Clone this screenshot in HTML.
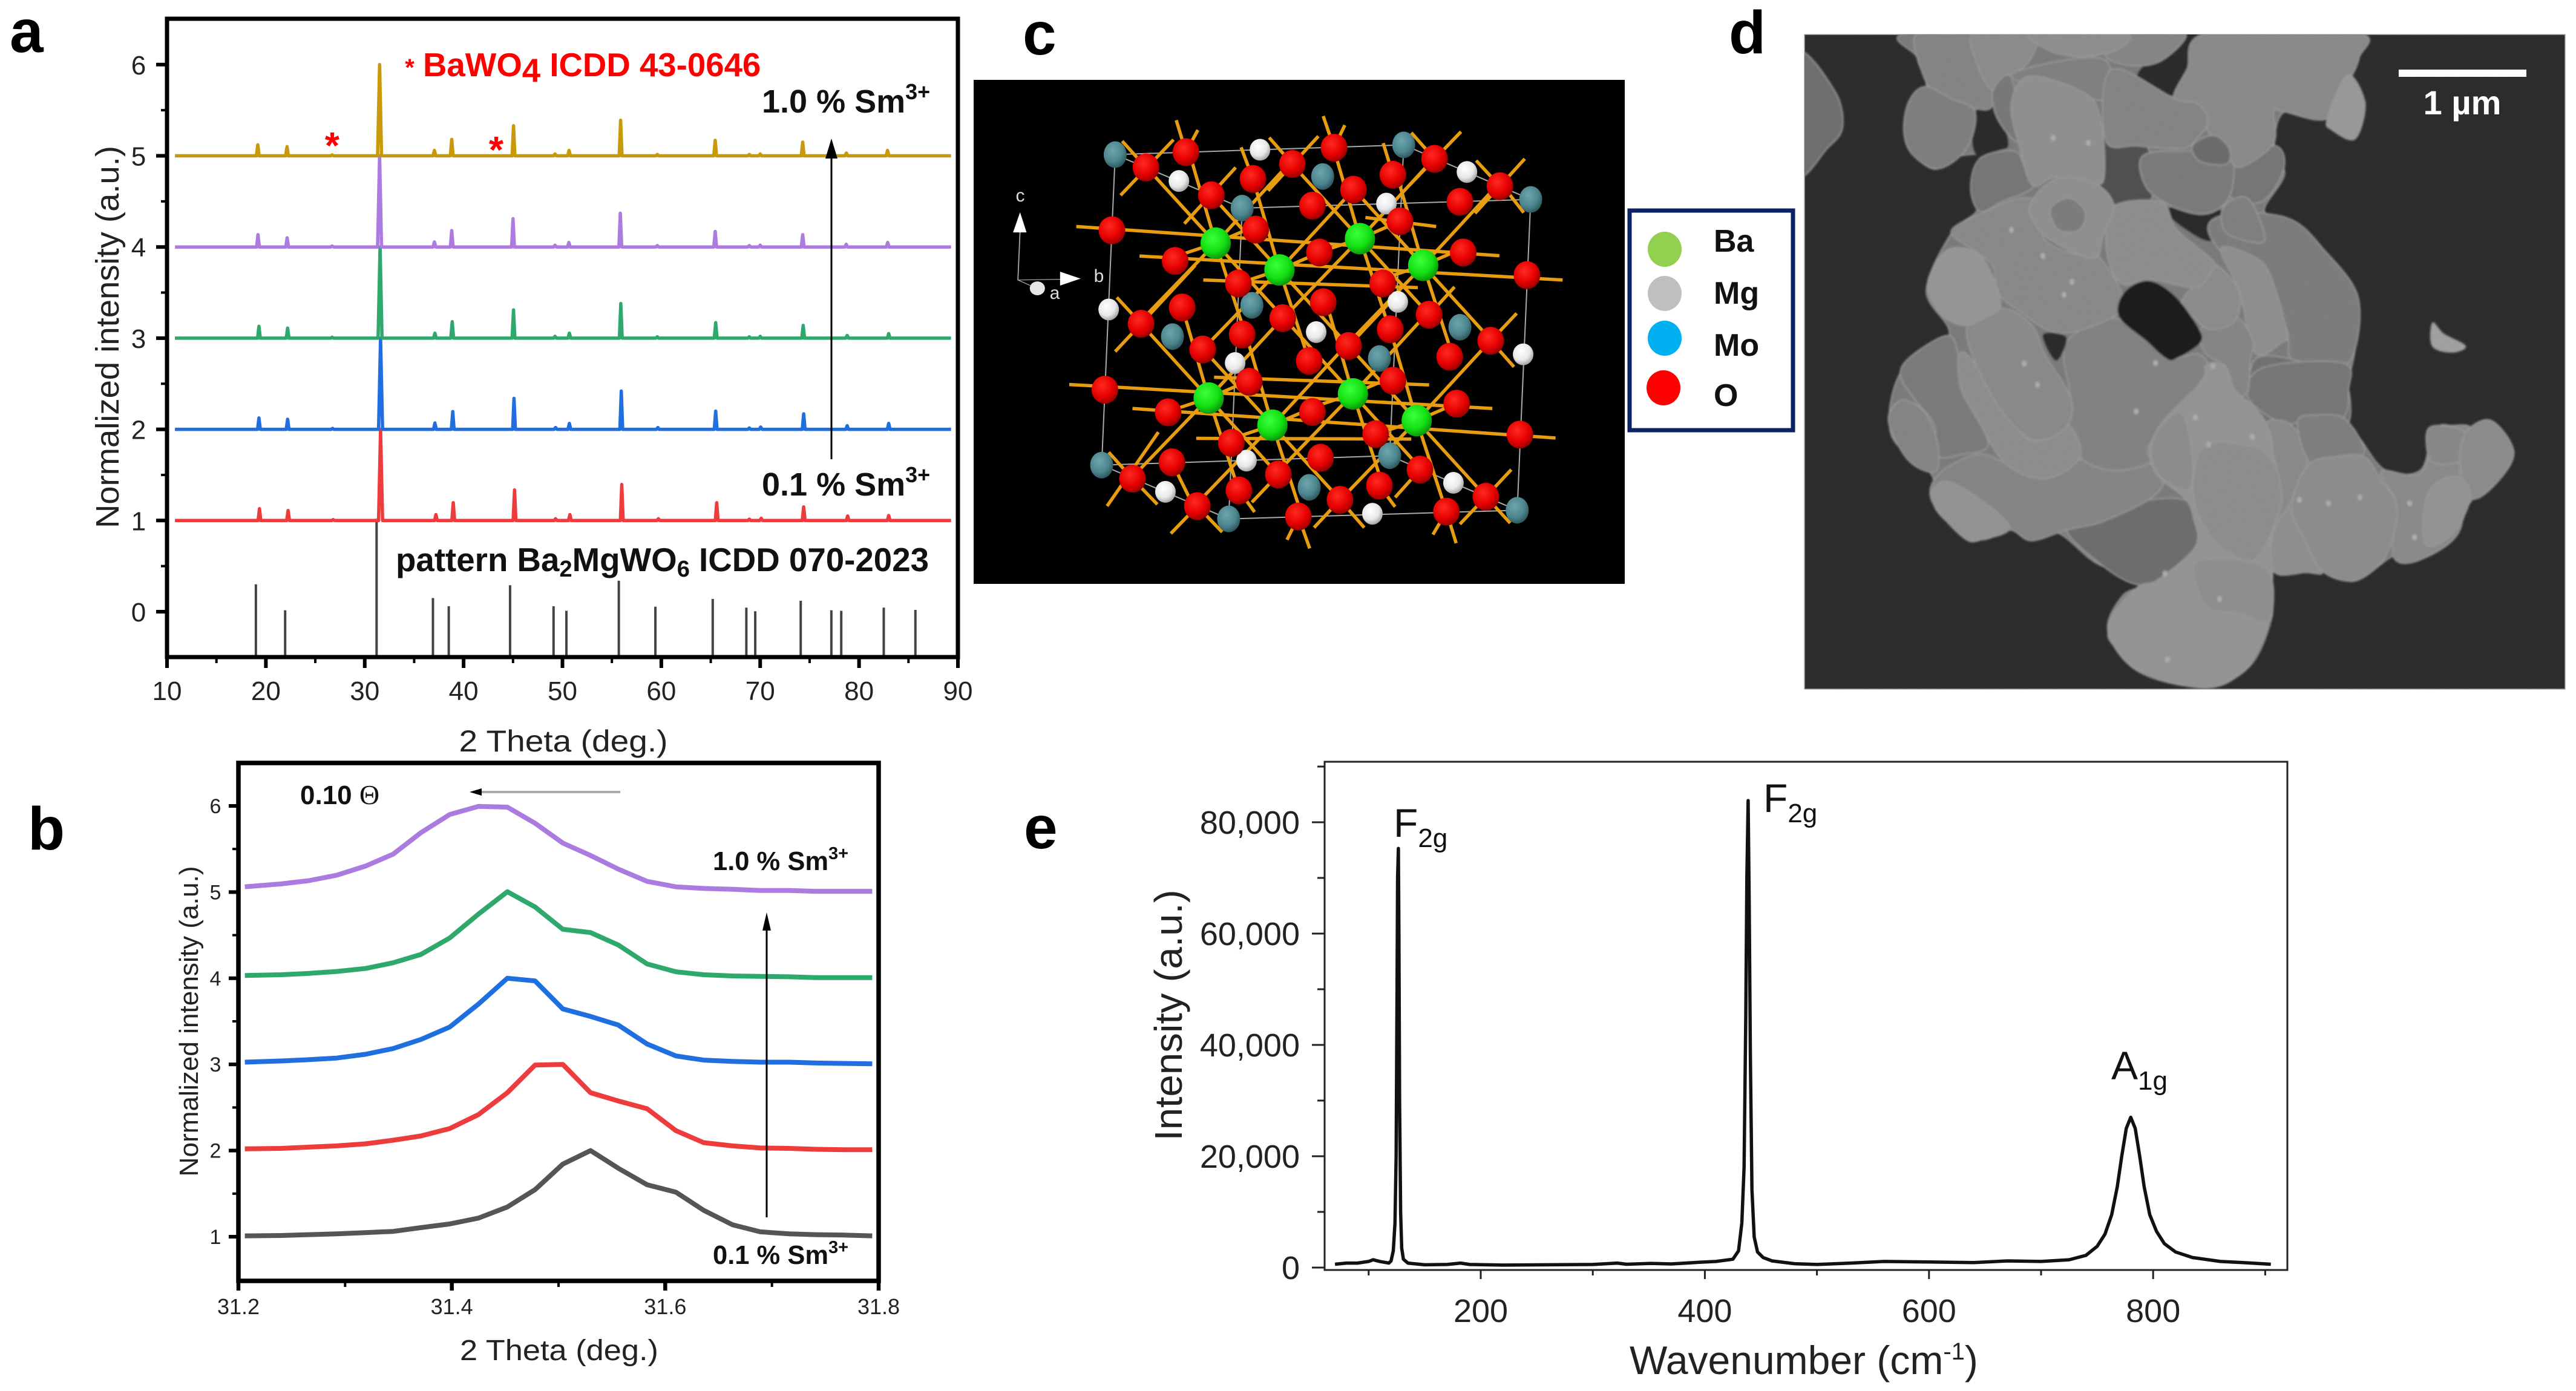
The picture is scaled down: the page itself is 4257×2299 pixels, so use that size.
<!DOCTYPE html>
<html lang="en">
<head>
<meta charset="utf-8">
<title>Ba2MgWO6 Sm3+ characterisation figure</title>
<style>
html,body{margin:0;padding:0;background:#fff;}
svg{display:block;font-family:"Liberation Sans",sans-serif;}
.panel-letter{font-weight:bold;font-size:100px;fill:#000;}
</style>
</head>
<body>
<svg id="figure" xmlns="http://www.w3.org/2000/svg" width="4257" height="2299" viewBox="0 0 4257 2299">
<defs>
<radialGradient id="grad-red" cx="40%" cy="35%" r="70%"><stop offset="0" stop-color="#ff2a20"/><stop offset=".6" stop-color="#e60000"/><stop offset="1" stop-color="#8c0000"/></radialGradient>
<radialGradient id="grad-green" cx="40%" cy="35%" r="70%"><stop offset="0" stop-color="#3dff3d"/><stop offset=".6" stop-color="#12e012"/><stop offset="1" stop-color="#0a8a0a"/></radialGradient>
<radialGradient id="grad-teal" cx="40%" cy="35%" r="70%"><stop offset="0" stop-color="#6fa5ad"/><stop offset=".6" stop-color="#4d868f"/><stop offset="1" stop-color="#2a5057"/></radialGradient>
<radialGradient id="grad-white" cx="40%" cy="35%" r="70%"><stop offset="0" stop-color="#ffffff"/><stop offset=".6" stop-color="#e8e8e8"/><stop offset="1" stop-color="#9a9a9a"/></radialGradient>
<filter id="sem-noise" x="0" y="0" width="100%" height="100%" color-interpolation-filters="sRGB"><feTurbulence type="fractalNoise" baseFrequency="0.7" numOctaves="2" seed="4"/><feColorMatrix values="1 0 0 0 0  1 0 0 0 0  1 0 0 0 0  0 0 0 0 .06"/></filter>
<filter id="sem-soft" x="-2%" y="-2%" width="104%" height="104%"><feGaussianBlur stdDeviation="1.6"/></filter>
<clipPath id="sem-clip"><rect x="2982" y="57" width="1257" height="1082"/></clipPath>
</defs>

<!-- panel letters -->
<text class="panel-letter" x="16" y="86">a</text>
<text class="panel-letter" x="46" y="1404">b</text>
<text class="panel-letter" x="1690" y="90">c</text>
<text class="panel-letter" x="2857" y="88">d</text>
<text class="panel-letter" x="1692" y="1402">e</text>

<!-- panel a -->
<g id="panel-a">
  <g id="a-series"></g>
  <rect x="276" y="31" width="1307" height="1055" fill="none" stroke="#000" stroke-width="7"/>
  <g id="a-axes"></g>
  <text x="931" y="1242" font-size="50" text-anchor="middle" fill="#222" textLength="345" lengthAdjust="spacingAndGlyphs">2 Theta (deg.)</text>
  <text transform="translate(196,557) rotate(-90)" font-size="54" text-anchor="middle" fill="#222" textLength="632" lengthAdjust="spacingAndGlyphs">Normalized intensity (a.u.)</text>
  <text x="677" y="125" font-size="40" font-weight="bold" text-anchor="middle" fill="#f00">*</text>
  <text x="699" y="126" font-size="54.6" font-weight="bold" fill="#f00">BaWO<tspan dy="9">4</tspan><tspan dy="-9"> ICDD 43-0646</tspan></text>
  <text x="549" y="262" font-size="62" font-weight="bold" text-anchor="middle" fill="#f00">*</text>
  <text x="820" y="269" font-size="62" font-weight="bold" text-anchor="middle" fill="#f00">*</text>
  <text x="1259" y="186" font-size="54" font-weight="bold" fill="#111">1.0 % Sm<tspan dy="-22" font-size="36">3+</tspan></text>
  <text x="1259" y="819" font-size="54" font-weight="bold" fill="#111">0.1 % Sm<tspan dy="-22" font-size="36">3+</tspan></text>
  <text x="654" y="944" font-size="54.7" font-weight="bold" fill="#111">pattern Ba<tspan dy="9" font-size="38">2</tspan><tspan dy="-9">MgWO</tspan><tspan dy="9" font-size="38">6</tspan><tspan dy="-9"> ICDD 070-2023</tspan></text>
  <g>
    <line x1="1374" y1="759" x2="1374" y2="255" stroke="#000" stroke-width="3"/>
    <polygon points="1374,229 1364,262 1384,262" fill="#000"/>
  </g>
</g>

<!-- panel b -->
<g id="panel-b">
  <g id="b-series"></g>
  <rect x="394" y="1261" width="1058" height="856" fill="none" stroke="#000" stroke-width="7.5"/>
  <g id="b-axes"></g>
  <text x="924" y="2248" font-size="48" text-anchor="middle" fill="#222" textLength="328" lengthAdjust="spacingAndGlyphs">2 Theta (deg.)</text>
  <text transform="translate(327,1688) rotate(-90)" font-size="44" text-anchor="middle" fill="#222" textLength="513" lengthAdjust="spacingAndGlyphs">Normalized intensity (a.u.)</text>
  <text x="496" y="1329" font-size="44" font-weight="bold" fill="#111">0.10 <tspan font-family="Liberation Serif" font-weight="normal" font-size="46">Θ</tspan></text>
  <g>
    <line x1="1025" y1="1309" x2="790" y2="1309" stroke="#aaa" stroke-width="4"/>
    <polygon points="776,1309 796,1303 796,1315" fill="#000"/>
  </g>
  <text x="1178" y="1438" font-size="43.5" font-weight="bold" fill="#111">1.0 % Sm<tspan dy="-18" font-size="29">3+</tspan></text>
  <text x="1178" y="2089" font-size="43.5" font-weight="bold" fill="#111">0.1 % Sm<tspan dy="-18" font-size="29">3+</tspan></text>
  <g>
    <line x1="1267" y1="2012" x2="1267" y2="1530" stroke="#000" stroke-width="3"/>
    <polygon points="1267,1508 1260,1538 1274,1538" fill="#000"/>
  </g>
</g>

<!-- panel c -->
<g id="panel-c">
  <rect x="1609" y="132" width="1076" height="833" fill="#000"/>
  <g id="c-cell"></g>
  <g id="c-bonds"></g>
  <g id="c-atoms"></g>
  <g transform="translate(1600,100) scale(.893,.574)">
    <polyline points="96,490 92,632 170,630" fill="none" stroke="#aaa" stroke-width="2"/>
    <line x1="92" y1="632" x2="115" y2="648" stroke="#aaa" stroke-width="2"/>
    <polygon points="96,437 83,495 108,495" fill="#fff"/>
    <polygon points="208,628 170,608 170,648" fill="#fff"/>
    <ellipse cx="128" cy="656" rx="14" ry="20" fill="#e6e6e6"/>
  </g>
  <text x="1686" y="333" font-size="30" text-anchor="middle" fill="#ddd">c</text>
  <text x="1816" y="466" font-size="30" text-anchor="middle" fill="#ddd">b</text>
  <text x="1743" y="494" font-size="30" text-anchor="middle" fill="#ddd">a</text>
  <g>
    <rect x="2693" y="348" width="270" height="363" fill="#fff" stroke="#0b2265" stroke-width="7"/>
    <ellipse cx="2751" cy="412" rx="28" ry="29" fill="#92d050"/>
    <ellipse cx="2751" cy="485" rx="28" ry="29" fill="#bfbfbf"/>
    <ellipse cx="2751" cy="559" rx="28" ry="29" fill="#00b0f0"/>
    <ellipse cx="2749" cy="641" rx="28" ry="29" fill="#ff0000"/>
    <text x="2832" y="416" font-size="52" font-weight="bold" fill="#111">Ba</text>
    <text x="2832" y="502" font-size="52" font-weight="bold" fill="#111">Mg</text>
    <text x="2832" y="588" font-size="52" font-weight="bold" fill="#111">Mo</text>
    <text x="2832" y="671" font-size="52" font-weight="bold" fill="#111">O</text>
  </g>
</g>

<!-- panel d -->
<g id="panel-d">
  <rect x="2982" y="57" width="1257" height="1082" fill="#272727" stroke="#aaa" stroke-width="1.5"/>
  <g clip-path="url(#sem-clip)">
    <g id="sem-particles" filter="url(#sem-soft)"></g>
  </g>
  <rect x="2982" y="57" width="1257" height="1082" filter="url(#sem-noise)"/>
  <rect x="3964" y="115" width="211" height="12" fill="#fff"/>
  <text x="4069" y="189" font-size="56" font-weight="bold" text-anchor="middle" fill="#fff">1 µm</text>
</g>

<!-- panel e -->
<g id="panel-e">
  <g id="e-series"></g>
  <rect x="2189" y="1259" width="1591" height="840" fill="none" stroke="#222" stroke-width="3"/>
  <g id="e-axes"></g>
  <text x="2693" y="2271" font-size="66" fill="#222">Wavenumber (cm<tspan dy="-24" font-size="40">-1</tspan><tspan dy="24">)</tspan></text>
  <text transform="translate(1953,1678) rotate(-90)" font-size="64" text-anchor="middle" fill="#222" textLength="415" lengthAdjust="spacingAndGlyphs">Intensity (a.u.)</text>
  <text x="2303" y="1383" font-size="66" fill="#111">F<tspan dy="17" font-size="44">2g</tspan></text>
  <text x="2914" y="1342" font-size="66" fill="#111">F<tspan dy="17" font-size="44">2g</tspan></text>
  <text x="3489" y="1784" font-size="66" fill="#111">A<tspan dy="17" font-size="44">1g</tspan></text>
</g>

<script>
/* ---------- panel a data ---------- */
const xrdXTicks = [10, 20, 30, 40, 50, 60, 70, 80, 90];
const xrdXMinorTicks = [15, 25, 35, 45, 55, 65, 75, 85];
const xrdYTicks = [0, 1, 2, 3, 4, 5, 6];
const xrdYMinorTicks = [0.5, 1.5, 2.5, 3.5, 4.5, 5.5];
const xrdRange = [10.8, 89.3];
const redTheta = [19.35, 22.25, 26.8, 31.6, 37.2, 38.95, 45.15, 49.3, 50.75, 56.0, 59.7, 65.6, 68.9, 70.1, 74.4, 78.85, 83.0];
const redHeight = [0.13, 0.11, 0.01, 1.0, 0.065, 0.195, 0.335, 0.02, 0.065, 0.395, 0.02, 0.195, 0.015, 0.025, 0.15, 0.05, 0.055];
const blueTheta = [19.3, 22.2, 26.75, 31.6, 37.1, 38.9, 45.1, 49.3, 50.7, 55.95, 59.65, 65.5, 68.9, 70.05, 74.4, 78.8, 83.0];
const blueHeight = [0.125, 0.11, 0.01, 1.0, 0.07, 0.195, 0.34, 0.02, 0.065, 0.42, 0.02, 0.2, 0.015, 0.025, 0.17, 0.04, 0.065];
const greenTheta = [19.3, 22.2, 26.7, 31.55, 37.1, 38.85, 45.05, 49.25, 50.7, 55.9, 59.6, 65.5, 68.9, 70.0, 74.35, 78.8, 83.0];
const greenHeight = [0.13, 0.11, 0.01, 1.0, 0.055, 0.18, 0.31, 0.02, 0.055, 0.38, 0.015, 0.17, 0.015, 0.02, 0.14, 0.03, 0.05];
const purpleTheta = [19.2, 22.15, 26.7, 31.5, 37.05, 38.8, 45.0, 49.25, 50.65, 55.85, 59.6, 65.45, 68.9, 70.0, 74.3, 78.7, 82.9];
const purpleHeight = [0.135, 0.1, 0.01, 1.0, 0.055, 0.18, 0.31, 0.02, 0.05, 0.37, 0.015, 0.17, 0.015, 0.02, 0.135, 0.03, 0.05];
const goldTheta = [19.18, 22.14, 26.7, 31.5, 37.05, 38.8, 45.05, 49.25, 50.67, 55.88, 59.6, 65.45, 68.9, 70.0, 74.3, 78.72, 82.88];
const goldHeight = [0.12, 0.1, 0.01, 1.0, 0.06, 0.18, 0.33, 0.02, 0.06, 0.39, 0.015, 0.17, 0.015, 0.02, 0.15, 0.03, 0.06];
const xrdBaselines = [1, 2, 3, 4, 5];
const patternTheta = [18.99, 21.95, 31.2, 36.9, 38.5, 44.7, 49.1, 50.4, 55.7, 59.4, 65.2, 68.6, 69.5, 74.1, 77.2, 78.2, 82.5, 85.7];
const patternHeight = [0.30, 0.016, 1.02, 0.15, 0.06, 0.29, 0.06, 0.01, 0.34, 0.055, 0.14, 0.045, 0.005, 0.12, 0.016, 0.01, 0.045, 0.02];

/* ---------- panel b data ---------- */
const zoomXTicks = [31.2, 31.4, 31.6, 31.8];
const zoomXMinorTicks = [31.3, 31.5, 31.7];
const zoomYTicks = [1, 2, 3, 4, 5, 6];
const zoomYMinorTicks = [1.5, 2.5, 3.5, 4.5, 5.5];
const zoomTheta = [31.206, 31.240, 31.266, 31.292, 31.319, 31.345, 31.371, 31.398, 31.425, 31.452, 31.478, 31.504, 31.530, 31.556, 31.583, 31.610, 31.636, 31.663, 31.689, 31.716, 31.741, 31.768, 31.794];
const zoomGray = [1.01, 1.014, 1.024, 1.034, 1.048, 1.062, 1.105, 1.148, 1.216, 1.345, 1.546, 1.843, 2.0, 1.795, 1.603, 1.517, 1.307, 1.139, 1.057, 1.034, 1.024, 1.019, 1.01];
const zoomRed = [2.02, 2.025, 2.04, 2.054, 2.078, 2.12, 2.169, 2.255, 2.418, 2.671, 2.992, 3.0, 2.671, 2.576, 2.485, 2.231, 2.092, 2.054, 2.03, 2.025, 2.015, 2.01, 2.01];
const zoomBlue = [3.026, 3.04, 3.055, 3.074, 3.117, 3.184, 3.289, 3.433, 3.701, 4.0, 3.969, 3.644, 3.557, 3.457, 3.237, 3.098, 3.05, 3.035, 3.026, 3.026, 3.016, 3.011, 3.007];
const zoomGreen = [4.032, 4.041, 4.056, 4.079, 4.113, 4.18, 4.276, 4.467, 4.745, 5.004, 4.827, 4.568, 4.53, 4.386, 4.166, 4.075, 4.041, 4.027, 4.022, 4.017, 4.008, 4.008, 4.008];
const zoomPurple = [5.061, 5.095, 5.133, 5.195, 5.301, 5.44, 5.689, 5.9, 5.995, 5.986, 5.799, 5.569, 5.425, 5.267, 5.124, 5.061, 5.042, 5.033, 5.018, 5.018, 5.009, 5.009, 5.009];

/* ---------- panel e data ---------- */
const ramanXTicks = [200, 400, 600, 800];
const ramanXMinorTicks = [100, 300, 500, 700, 900];
const ramanYTicks = [0, 20000, 40000, 60000, 80000];
const ramanYTickLabels = ["0", "20,000", "40,000", "60,000", "80,000"];
const ramanYMinorTicks = [10000, 30000, 50000, 70000, 90000];
const ramanWave = [70, 80, 90, 100, 104, 110, 118, 120, 122, 123.5, 124.5, 125.3, 125.8, 126.5, 127, 127.6, 128.5, 129.5, 131, 135, 150, 170, 182, 190, 220, 260, 300, 322, 330, 352, 370, 395, 410, 425, 430, 433, 435, 436.5, 437.5, 438.6, 439.6, 440.6, 442, 444, 447, 452, 460, 480, 500, 530, 560, 600, 640, 670, 700, 725, 740, 750, 757, 763, 768, 772, 776, 780, 784, 788, 792, 797, 803, 810, 820, 835, 860, 880, 905];
const ramanIntensity = [600, 800, 800, 1100, 1400, 1100, 800, 1200, 3000, 8000, 20000, 50000, 70000, 75300, 60000, 30000, 10000, 3500, 1500, 800, 500, 550, 800, 550, 450, 500, 550, 800, 600, 750, 650, 950, 1100, 1500, 3000, 8000, 18000, 45000, 70000, 83900, 65000, 38000, 14000, 5500, 2800, 1800, 1200, 700, 550, 800, 1100, 1000, 900, 1200, 1100, 1400, 2200, 3800, 6000, 9500, 14500, 20000, 25000, 27000, 25000, 20000, 14500, 9500, 6500, 4300, 2800, 1800, 1100, 900, 600];

/* ---------- panel c structure ---------- */
const oxygenSites = [[266,489],[403,264],[329,308],[450,388],[527,341],[600,298],[677,251],[637,418],[713,372],[786,329],[863,283],[799,463],[910,407],[984,362],[532,487],[383,577],[650,553],[916,553],[1034,618],[500,642],[767,642],[396,711],[320,758],[582,742],[657,696],[853,732],[507,789],[781,774],[434,832],[631,865],[704,822],[891,853],[967,807],[253,948],[520,925],[786,922],[370,1013],[637,1012],[904,988],[1021,1077],[487,1101],[754,1076],[377,1157],[304,1204],[652,1144],[574,1192],[836,1178],[501,1238],[424,1283],[761,1224],[688,1265],[611,1313],[885,1299],[958,1256]];
const bariumSites = [[458,526],[725,513],[576,603],[842,590],[445,972],[712,960],[563,1050],[830,1037]];
const molybdenumSites = [[272,271],[656,334],[806,243],[507,425],[1041,400],[525,705],[378,795],[910,768],[761,858],[247,1165],[780,1138],[631,1229],[482,1320],[1016,1295]];
const magnesiumSites = [[390,347],[540,257],[923,321],[774,412],[260,717],[795,695],[644,782],[494,871],[1027,846],[365,1242],[515,1152],[898,1216],[748,1305]];
const bariumBondOffsets = [[-49,-262],[-126,-215],[137,-231],[74,-50],[-76,39],[-142,229],[55,262],[128,219]];
const extraBonds = [[200,478,983,562],[317,563,1100,632],[435,632,832,654],[735,452,866,478],[187,933,970,1002],[304,1002,1087,1087],[422,1088,820,1090],[455,912,853,934],[385,172,403,264],[425,200,403,264],[285,232,329,308],[380,228,282,388],[505,250,527,341],[557,222,600,298],[648,218,555,375],[657,160,677,251],[697,186,677,251],[768,238,786,329],[820,208,863,283],[912,205,816,360],[940,288,984,362],[1030,283,938,440],[985,352,1028,438],[400,470,495,308],[260,1128,304,1204],[352,1070,257,1283],[304,1204,350,1278],[377,1157,408,1255],[424,1283,470,1358],[424,1283,375,1362],[501,1238,530,1300],[574,1192,525,1272],[611,1313,632,1405],[611,1313,590,1380],[688,1265,640,1345],[688,1265,733,1345],[761,1224,790,1285],[836,1178,790,1258],[885,1299,903,1390],[885,1299,860,1365],[958,1256,1005,1178],[958,1256,1003,1332],[958,1256,910,1335],[275,682,320,758],[320,758,272,838],[967,807,1015,728],[967,807,1010,882],[320,758,420,590],[853,732,900,652],[704,822,790,680]];
const cellEdges = [[272,271,806,243],[272,271,507,425],[507,425,1041,400],[806,243,1041,400],[247,1165,780,1138],[247,1165,482,1320],[482,1320,1016,1295],[780,1138,1016,1295],[272,271,247,1165],[1041,400,1016,1295],[507,425,482,1320],[806,243,780,1138]];

/* ---------- panel d micrograph outlines: frame, fill, outline points ---------- */
const semFrames = {T: [3120, 50, 0.4337, 0.4337], M: [3000, 300, 0.4464, 0.4464], B: [3480, 600, 0.3444, 0.3444], R: [0, 0, 1, 1], Z: [2950, 0, 0.8335, 0.7398]};
const semGrains = [
  ["R", "#6e6e6e", [[2970,90],[3032,150],[3045,210],[3020,245],[2970,285]]],
  ["R", "#a2a2a2", [[4020,534],[4038,552],[4074,572],[4052,582],[4020,572]]],
  ["Z", "#7a7a7a", [[262,70],[790,70],[770,150],[835,70],[1130,70],[1138,130],[1120,180],[1150,230],[1130,310],[1085,290],[1075,265],[990,250],[970,330],[990,390],[950,470],[1000,490],[1070,560],[1135,660],[1130,780],[1115,860],[1110,935],[1140,980],[1190,1050],[1260,1050],[1290,960],[1360,960],[1400,940],[1445,1010],[1410,1080],[1360,1120],[1330,1190],[1260,1250],[1210,1240],[1130,1298],[1060,1275],[970,1275],[965,1380],[920,1490],[830,1535],[700,1500],[640,1410],[670,1330],[720,1300],[620,1260],[540,1190],[460,1180],[380,1205],[300,1140],[290,1060],[210,970],[230,830],[325,750],[280,650],[330,520],[380,470],[370,410],[400,350],[340,350],[295,378],[245,330],[240,260],[280,200],[262,130]]],
  ["T", "#262626", [[340,300],[410,290],[460,430],[420,460],[350,490],[320,420]]],
  ["T", "#262626", [[1060,680],[1280,690],[1240,800],[1150,770]]],
  ["T", "#262626", [[1130,15],[1210,15],[1140,150],[1090,250],[950,170]]],
  ["T", "#4e4e4e", [[800,410],[980,430],[1000,650],[820,640]]],
  ["T", "#7b7b7b", [[1230,790],[1300,700],[1529,718],[1665,840],[1789,1010],[1780,1215],[1702,1300],[1540,1260],[1500,1100]]],
  ["T", "#6f6f6f", [[1380,1300],[1450,1240],[1702,1300],[1750,1351],[1760,1480],[1700,1560],[1500,1560],[1400,1480]]],
  ["B", "#767676", [[680,160],[760,20],[1140,0],[1165,130],[1140,260],[1000,260],[850,290]]],
  ["T", "#747474", [[1310,520],[1470,440],[1510,520],[1430,650],[1310,640]]],
  ["T", "#7f7f7f", [[1290,660],[1370,640],[1430,760],[1420,810],[1300,780],[1270,720]]],
  ["T", "#7a7a7a", [[970,480],[1120,460],[1300,480],[1310,610],[1260,680],[1180,700],[1060,660],[980,590]]],
  ["T", "#848484", [[115,10],[330,10],[400,270],[320,295],[180,240],[120,130]]],
  ["T", "#7e7e7e", [[140,215],[240,260],[330,310],[300,450],[190,528],[90,470],[60,380],[80,270]]],
  ["T", "#8c8c8c", [[330,10],[550,10],[550,100],[470,180],[400,230],[340,130]]],
  ["T", "#858585", [[900,10],[1130,10],[1050,110],[940,135],[830,100]]],
  ["T", "#8f8f8f", [[550,10],[900,10],[880,70],[750,100],[620,80]]],
  ["T", "#8a8a8a", [[1140,150],[1220,10],[1790,10],[1794,106],[1759,191],[1674,337],[1510,311],[1470,310],[1470,430],[1350,520],[1300,490],[1210,370],[1180,280],[1090,260]]],
  ["T", "#9a9a9a", [[1750,170],[1817,277],[1780,413],[1692,380],[1674,337]]],
  ["T", "#808080", [[470,180],[640,120],[820,110],[860,210],[860,270],[770,260]]],
  ["T", "#848484", [[850,150],[1090,260],[1180,280],[1220,350],[1170,420],[1120,450],[950,440],[830,420]]],
  ["T", "#777777", [[400,230],[470,180],[500,420],[420,340]]],
  ["T", "#747474", [[350,490],[480,460],[520,520],[550,600],[440,650],[350,690],[315,600]]],
  ["T", "#909090", [[540,175],[750,240],[810,340],[825,540],[790,590],[640,560],[550,590],[500,440],[470,280]]],
  ["T", "#6a6a6a", [[1160,440],[1240,400],[1300,450],[1290,510],[1190,500]]],
  ["B", "#8a8a8a", [[770,285],[880,290],[960,400],[960,500],[880,680],[800,810],[800,850],[800,400]]],
  ["B", "#7e7e7e", [[920,280],[1020,250],[1150,270],[1240,430],[1100,460],[980,480]]],
  ["B", "#8a8a8a", [[1320,520],[1510,530],[1582,319],[1660,300],[1754,319],[1700,500],[1700,800],[1510,944],[1380,930],[1395,680]]],
  ["B", "#888888", [[1540,330],[1600,300],[1720,330],[1750,440],[1680,480],[1560,470]]],
  ["B", "#8c8c8c", [[1730,330],[1850,276],[1957,427],[1873,578],[1754,650],[1700,480]]],
  ["B", "#949494", [[1540,640],[1610,560],[1700,550],[1750,640],[1680,800],[1560,880],[1520,820]]],
  ["B", "#8f8f8f", [[800,830],[890,690],[950,840],[1040,1000],[960,1005],[810,1005]]],
  ["B", "#8d8d8d", [[890,690],[970,490],[1100,450],[1240,450],[1320,560],[1395,680],[1380,830],[1320,960],[1190,1045],[1040,1000],[950,840]]],
  ["M", "#7a7a7a", [[315,720],[350,650],[490,570],[530,650],[540,770],[640,970],[540,1010],[450,1015],[440,900],[370,810]]],
  ["M", "#848484", [[270,880],[320,810],[400,850],[450,960],[450,1070],[380,1060],[320,1000]]],
  ["M", "#6c6c6c", [[930,1290],[1060,1260],[1230,1180],[1400,1200],[1400,1400],[1270,1480],[1180,1490],[1060,1420]]],
  ["M", "#858585", [[430,1180],[460,1080],[600,1010],[700,1040],[850,1100],[980,1030],[1240,1045],[1290,1110],[1230,1180],[1060,1260],[930,1290],[800,1330],[720,1290],[620,1325],[550,1320]]],
  ["M", "#949494", [[430,1180],[480,1110],[600,1170],[720,1280],[620,1325],[550,1320]]],
  ["M", "#828282", [[920,620],[1000,540],[1125,510],[1260,620],[1320,655],[1420,640],[1440,720],[1240,970],[1240,1040],[1100,1070],[980,1020],[935,900],[945,800]]],
  ["M", "#8e8e8e", [[530,650],[580,660],[760,930],[850,955],[935,900],[980,1020],[850,1100],[700,1040],[590,860],[540,770]]],
  ["M", "#8a8a8a", [[560,545],[690,470],[800,530],[850,640],[945,800],[935,900],[850,955],[760,930],[640,770]]],
  ["T", "#8f8f8f", [[1270,830],[1420,880],[1480,1000],[1520,1160],[1500,1190],[1400,1230],[1340,1000]]],
  ["T", "#858585", [[1190,1140],[1320,1090],[1390,1180],[1380,1260],[1370,1380],[1320,1380],[1280,1280],[1210,1230]]],
  ["T", "#8c8c8c", [[1120,1030],[1230,920],[1260,900],[1340,1000],[1320,1110],[1230,1140],[1170,1100]]],
  ["T", "#8e8e8e", [[830,790],[860,670],[1040,655],[1100,760],[1240,880],[1230,920],[1170,980],[1000,950],[900,970],[850,910]]],
  ["T", "#898989", [[240,770],[330,710],[540,640],[600,800],[740,860],[800,860],[890,1000],[880,1080],[660,1155],[500,1070],[420,1000],[400,900],[330,840]]],
  ["T", "#909090", [[540,670],[600,590],[680,560],[800,590],[860,670],[820,780],[800,860],[740,860],[620,800],[560,740]]],
  ["T", "#7c7c7c", [[620,680],[690,640],[750,690],[730,760],[650,760]]],
  ["T", "#979797", [[150,970],[210,850],[290,830],[370,880],[430,1040],[380,1090],[290,1125],[200,1080]]],
  ["B", "#959595", [[360,190],[470,80],[480,10],[570,10],[620,130],[700,200],[770,290],[800,420],[840,600],[830,720],[790,850],[800,1040],[770,1280],[660,1480],[470,1560],[170,1480],[40,1360],[10,1290],[50,1180],[160,1070],[250,1040],[430,880],[420,740],[380,650],[250,540],[210,420],[260,300]]],
  ["B", "#8e8e8e", [[470,400],[700,400],[800,470],[840,600],[830,720],[720,940],[590,910],[500,830],[420,640]]],
  ["B", "#8d8d8d", [[215,420],[260,310],[360,240],[410,400],[410,590],[340,600],[250,530]]],
  ["B", "#8f8f8f", [[440,950],[720,960],[800,1050],[780,1240],[640,1200],[500,1180],[440,1080]]],
  ["T", "#141414", [[880,1090],[900,1000],[990,955],[1090,1010],[1180,1130],[1190,1190],[1100,1250],[1060,1250],[980,1180]]],
  ["T", "#262626", [[590,1160],[680,1170],[640,1260]]]
];
const semSpecks = [[3324,380],[3376,423],[3424,466],[3411,487],[3393,228],[3451,236],[3345,601],[3367,636],[3562,600],[3657,605],[3530,680],[3628,690],[3650,735],[3722,722],[3800,826],[3848,832],[3900,822],[3982,832],[3990,888],[3578,948],[3668,990],[3582,1090]];

/* ---------- helpers ---------- */
const svgNS = "http://www.w3.org/2000/svg";
function add(tag, attrs, parent) {
  const node = document.createElementNS(svgNS, tag);
  for (const key in attrs) node.setAttribute(key, attrs[key]);
  parent.appendChild(node);
  return node;
}
function byId(id) { return document.getElementById(id); }

function drawTick(parent, x1, y1, x2, y2, width, color, name) {
  const tick = add("line", {x1: x1, y1: y1, x2: x2, y2: y2, stroke: color, "stroke-width": width}, parent);
  
  
}
function drawLabel(parent, x, y, text, size, anchor, name) {
  const label = add("text", {x: x, y: y, "font-size": size, "text-anchor": anchor, fill: "#222"}, parent);
  label.textContent = text;
  
  
}
function linePath(xs, ys, xScale, yScale) {
  return xs.map(function (x, i) { return (i ? "L" : "M") + xScale(x).toFixed(1) + " " + yScale(ys[i]).toFixed(1); }).join("");
}

/* ---------- panel a ---------- */
const xA = function (v) { return 276 + (v - 10) * 1307 / 80; };
const yA = function (v) { return 1011 - v * 150.7; };
const aAxes = byId("a-axes");
const aSeries = byId("a-series");
xrdXTicks.forEach(function (v) {
  drawTick(aAxes, xA(v), 1086, xA(v), 1104, 6, "#000", "xrd-x-tick");
  drawLabel(aAxes, xA(v), 1157, String(v), 44, "middle", "xrd-x-tick-label");
});
xrdXMinorTicks.forEach(function (v) { drawTick(aAxes, xA(v), 1086, xA(v), 1096, 4, "#000", "xrd-x-minor-tick"); });
xrdYTicks.forEach(function (v) {
  drawTick(aAxes, 276, yA(v), 258, yA(v), 6, "#000", "xrd-y-tick");
  drawLabel(aAxes, 229, yA(v) + 16, String(v), 44, "middle", "xrd-y-tick-label");
});
xrdYMinorTicks.forEach(function (v) { drawTick(aAxes, 276, yA(v), 266, yA(v), 4, "#000", "xrd-y-minor-tick"); });

patternTheta.forEach(function (t, i) {
  drawTick(aSeries, xA(t), yA(-0.5), xA(t), yA(patternHeight[i]), 4, "#444", "reference-pattern-stick");
});

function xrdPath(thetas, heights, base) {
  let d = "M" + xA(xrdRange[0]).toFixed(1) + " " + yA(base).toFixed(1);
  thetas.forEach(function (t, i) {
    const half = heights[i] >= 0.9 ? 0.2 : 0.14;
    d += "L" + xA(t - half).toFixed(1) + " " + yA(base).toFixed(1);
    d += "L" + xA(t).toFixed(1) + " " + yA(base + heights[i]).toFixed(1);
    d += "L" + xA(t + half).toFixed(1) + " " + yA(base).toFixed(1);
  });
  return d + "L" + xA(xrdRange[1]).toFixed(1) + " " + yA(base).toFixed(1);
}
const redXrd = add("path", {d: xrdPath(redTheta, redHeight, xrdBaselines[0]), fill: "none", stroke: "#ee3b3b", "stroke-width": 5.5, "stroke-linejoin": "round"}, aSeries);


const blueXrd = add("path", {d: xrdPath(blueTheta, blueHeight, xrdBaselines[1]), fill: "none", stroke: "#1f6fe0", "stroke-width": 5.5, "stroke-linejoin": "round"}, aSeries);


const greenXrd = add("path", {d: xrdPath(greenTheta, greenHeight, xrdBaselines[2]), fill: "none", stroke: "#2fa96b", "stroke-width": 5.5, "stroke-linejoin": "round"}, aSeries);


const purpleXrd = add("path", {d: xrdPath(purpleTheta, purpleHeight, xrdBaselines[3]), fill: "none", stroke: "#ab7bdf", "stroke-width": 5.5, "stroke-linejoin": "round"}, aSeries);


const goldXrd = add("path", {d: xrdPath(goldTheta, goldHeight, xrdBaselines[4]), fill: "none", stroke: "#c8990a", "stroke-width": 5.5, "stroke-linejoin": "round"}, aSeries);



/* ---------- panel b ---------- */
const xB = function (v) { return 394 + (v - 31.2) * 1058 / 0.6; };
const yB = function (v) { return 2044 - (v - 1) * 142.4; };
const bAxes = byId("b-axes");
const bSeries = byId("b-series");
zoomXTicks.forEach(function (v) {
  drawTick(bAxes, xB(v), 2117, xB(v), 2133, 6.5, "#000", "zoom-x-tick");
  drawLabel(bAxes, xB(v), 2172, v.toFixed(1), 36, "middle", "zoom-x-tick-label");
});
zoomXMinorTicks.forEach(function (v) { drawTick(bAxes, xB(v), 2117, xB(v), 2127, 4, "#000", "zoom-x-minor-tick"); });
zoomYTicks.forEach(function (v) {
  drawTick(bAxes, 394, yB(v), 378, yB(v), 6, "#000", "zoom-y-tick");
  drawLabel(bAxes, 356, yB(v) + 12, String(v), 34, "middle", "zoom-y-tick-label");
});
zoomYMinorTicks.forEach(function (v) { drawTick(bAxes, 394, yB(v), 384, yB(v), 4, "#000", "zoom-y-minor-tick"); });

const grayZoom = add("path", {d: linePath(zoomTheta, zoomGray, xB, yB), fill: "none", stroke: "#555", "stroke-width": 8, "stroke-linejoin": "round"}, bSeries);


const redZoom = add("path", {d: linePath(zoomTheta, zoomRed, xB, yB), fill: "none", stroke: "#ee3b3b", "stroke-width": 8, "stroke-linejoin": "round"}, bSeries);


const blueZoom = add("path", {d: linePath(zoomTheta, zoomBlue, xB, yB), fill: "none", stroke: "#1f6fe0", "stroke-width": 8, "stroke-linejoin": "round"}, bSeries);


const greenZoom = add("path", {d: linePath(zoomTheta, zoomGreen, xB, yB), fill: "none", stroke: "#2fa96b", "stroke-width": 8, "stroke-linejoin": "round"}, bSeries);


const purpleZoom = add("path", {d: linePath(zoomTheta, zoomPurple, xB, yB), fill: "none", stroke: "#ab7bdf", "stroke-width": 8, "stroke-linejoin": "round"}, bSeries);



/* ---------- panel c ---------- */
const cX = function (z) { return 1600 + z * 0.893; };
const cY = function (z) { return 100 + z * 0.574; };
cellEdges.forEach(function (e) {
  drawTick(byId("c-cell"), cX(e[0]), cY(e[1]), cX(e[2]), cY(e[3]), 2, "#aaa", "unit-cell-edge");
});
function drawBond(x1, y1, x2, y2) {
  drawTick(byId("c-bonds"), cX(x1), cY(y1), cX(x2), cY(y2), 5.5, "#e89c10", "bond");
}
extraBonds.forEach(function (b) { drawBond(b[0], b[1], b[2], b[3]); });
bariumSites.forEach(function (g) {
  bariumBondOffsets.forEach(function (o) { drawBond(g[0], g[1], g[0] + o[0], g[1] + o[1]); });
});
function drawAtoms(sites, rx, ry, fill, name) {
  sites.forEach(function (s) {
    const atom = add("ellipse", {cx: cX(s[0]), cy: cY(s[1]), rx: rx, ry: ry, fill: fill}, byId("c-atoms"));
    
    
  });
}
drawAtoms(molybdenumSites, 19, 22, "url(#grad-teal)", "mo-atom");
drawAtoms(magnesiumSites, 17, 18, "url(#grad-white)", "mg-atom");
drawAtoms(oxygenSites, 22, 23, "url(#grad-red)", "o-atom");
drawAtoms(bariumSites, 25, 26, "url(#grad-green)", "ba-atom");

/* ---------- panel d ---------- */
function roundedOutline(frameKey, pts) {
  const f = semFrames[frameKey];
  const real = pts.map(function (p) { return [f[0] + p[0] * f[2], f[1] + p[1] * f[3]]; });
  const n = real.length;
  let d = "M" + real[0][0].toFixed(1) + " " + real[0][1].toFixed(1);
  for (let i = 0; i < n; i++) {
    const p0 = real[(i - 1 + n) % n];
    const p1 = real[i];
    const p2 = real[(i + 1) % n];
    const p3 = real[(i + 2) % n];
    d += "C" + (p1[0] + (p2[0] - p0[0]) / 6).toFixed(1) + " " + (p1[1] + (p2[1] - p0[1]) / 6).toFixed(1) + " " +
         (p2[0] - (p3[0] - p1[0]) / 6).toFixed(1) + " " + (p2[1] - (p3[1] - p1[1]) / 6).toFixed(1) + " " +
         p2[0].toFixed(1) + " " + p2[1].toFixed(1);
  }
  return d + "Z";
}
semGrains.forEach(function (g) {
  const dark = g[1] === "#141414" || g[1] === "#262626";
  const grain = add("path", {d: roundedOutline(g[0], g[2]), fill: g[1], stroke: dark ? "none" : "#9a9a9a", "stroke-width": 2, "stroke-linejoin": "round"}, byId("sem-particles"));
  
  
});
semSpecks.forEach(function (s) {
  const speck = add("ellipse", {cx: s[0], cy: s[1], rx: 4, ry: 5, fill: "#afafaf"}, byId("sem-particles"));
  
  
});

/* ---------- panel e ---------- */
const xE = function (v) { return 2447 + (v - 200) * 1.852; };
const yE = function (v) { return 2095 - v * 0.0092; };
const eAxes = byId("e-axes");
const eSeries = byId("e-series");
ramanXTicks.forEach(function (v) {
  drawTick(eAxes, xE(v), 2099, xE(v), 2114, 3, "#222", "raman-x-tick");
  drawLabel(eAxes, xE(v), 2185, String(v), 54, "middle", "raman-x-tick-label");
});
ramanXMinorTicks.forEach(function (v) { drawTick(eAxes, xE(v), 2099, xE(v), 2108, 3, "#222", "raman-x-minor-tick"); });
ramanYTicks.forEach(function (v, i) {
  drawTick(eAxes, 2189, yE(v), 2168, yE(v), 3, "#222", "raman-y-tick");
  drawLabel(eAxes, 2148, yE(v) + 19, ramanYTickLabels[i], 54, "end", "raman-y-tick-label");
});
ramanYMinorTicks.forEach(function (v) { drawTick(eAxes, 2189, yE(v), 2177, yE(v), 3, "#222", "raman-y-minor-tick"); });
const ramanLine = add("path", {d: linePath(ramanWave, ramanIntensity, xE, yE), fill: "none", stroke: "#111", "stroke-width": 5.5, "stroke-linejoin": "round"}, eSeries);


</script>
</svg>
</body>
</html>
